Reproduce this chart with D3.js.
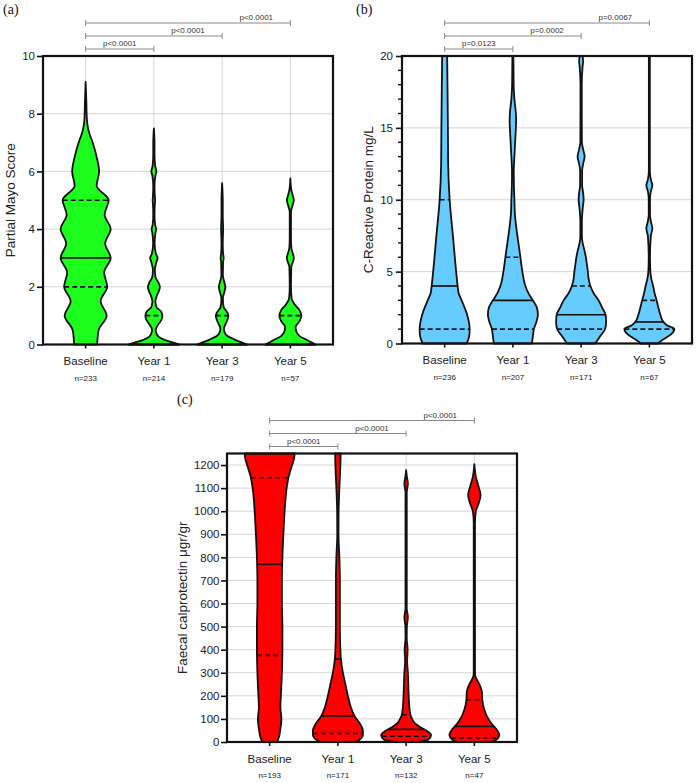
<!DOCTYPE html>
<html><head><meta charset="utf-8">
<script src="https://cdn.jsdelivr.net/npm/d3@7"></script>
<style>body{margin:0;background:#fff} svg{display:block}</style>
</head><body>
<script>
// ---------- DATA ----------
const categories = ["Baseline","Year 1","Year 3","Year 5"];

// (a) Partial Mayo Score
const mayoN = [233,214,179,57];
const mayoTicks = [0,2,4,6,8,10];
const mayoQuartiles = [[2,3,5],[0,0,1],[0,0,1],[0,0,1]]; // Q1, median, Q3
const mayoP = ["p<0.0001","p<0.0001","p<0.0001"];
// violin density profiles: [value, relative density]
const mayoDensity = [
  [[0,.46],[0.5,.52],[1,.84],[1.5,.6],[2,.86],[2.5,.74],[3,1],[3.5,.78],[4,1],[4.5,.76],[5,.92],[5.5,.44],[6,.54],[6.5,.44],[7,.28],[7.4,.12],[7.8,.05],[8.5,.025],[9.1,0]],
  [[0,1],[0.08,.72],[0.17,.4],[0.26,.2],[0.35,.12],[0.5,.07],[0.7,.18],[0.85,.3],[1,.34],[1.15,.28],[1.3,.1],[1.5,.06],[1.7,.12],[1.85,.2],[2,.24],[2.15,.18],[2.35,.06],[2.6,.04],[2.85,.1],[3,.15],[3.15,.08],[3.5,.03],[3.85,.06],[4,.09],[4.15,.05],[4.5,.025],[4.9,.04],[5,.05],[5.1,.04],[5.5,.025],[5.85,.06],[6,.1],[6.2,.05],[6.6,.025],[7,.025],[7.49,0]],
  [[0,1],[0.08,.75],[0.17,.5],[0.3,.2],[0.42,.1],[0.55,.07],[0.75,.16],[0.9,.23],[1,.25],[1.12,.2],[1.3,.06],[1.6,.03],[1.85,.1],[2,.13],[2.15,.09],[2.4,.03],[2.85,.04],[3,.06],[3.15,.04],[3.5,.025],[4,.04],[4.5,.025],[5,.025],[5.59,0]],
  [[0,1],[0.15,.68],[0.3,.36],[0.45,.24],[0.6,.21],[0.8,.36],[1,.44],[1.2,.36],[1.4,.16],[1.6,.05],[2,.025],[2.7,.04],[2.85,.1],[3,.14],[3.15,.1],[3.35,.04],[3.7,.025],[4.6,.025],[4.85,.1],[5,.14],[5.15,.1],[5.35,.04],[5.76,0]]
];

// (b) C-Reactive Protein
const crpN = [236,207,171,67];
const crpTicks = [0,5,10,15,20];
const crpMinorTicks = [1,2,3,4,6,7,8,9,11,12,13,14,16,17,18,19];
const crpQuartiles = [[1,4,10],[1,3,6],[1,2,4],[1,1.5,3]];
const crpP = ["p=0.0123","p=0.0002","p=0.0067"];
const crpDensity = [
  [[0,.88],[0.5,.98],[1,1],[2,.9],[3,.68],[3.5,.56],[4,.52],[5,.46],[7.5,.33],[10,.2],[12.5,.14],[15,.13],[20,.1]],
  [[0,.76],[0.5,.8],[1,.84],[1.5,.94],[2,1],[2.5,.96],[3,.8],[3.5,.62],[4,.5],[5,.38],[6,.3],[7,.22],[8,.14],[9,.08],[10,.06],[11,.04],[12,.035],[13,.06],[14,.09],[15,.12],[15.5,.13],[16,.12],[17,.06],[18,.03],[20,.02]],
  [[0,.56],[0.5,.76],[1,.96],[1.5,1],[2,.98],[2.5,.84],[3,.7],[3.5,.5],[4,.37],[4.5,.3],[5,.27],[5.5,.23],[6,.19],[6.5,.13],[7,.06],[7.5,.03],[8.5,.03],[9.5,.07],[10,.1],[10.5,.08],[11,.04],[12,.04],[12.5,.08],[13,.14],[13.5,.08],[14,.03],[18,.025],[19.3,.06],[19.6,.08],[20,.06]],
  [[0,.34],[0.25,.52],[0.5,.76],[1,1],[1.25,.72],[1.5,.56],[2,.44],[2.5,.36],[3,.29],[3.5,.21],[4,.15],[4.5,.08],[5,.04],[6,.025],[7.5,.06],[8,.12],[8.5,.06],[9,.025],[10,.025],[10.6,.06],[11,.12],[11.4,.06],[12,.02],[20,.02]]
];

// (c) Faecal calprotectin
const calN = [193,171,132,47];
const calTicks = [0,100,200,300,400,500,600,700,800,900,1000,1100,1200];
const calQuartiles = [[375,770,1145],[37,113,360],[25,55,118],[18,68,183]];
const calP = ["p<0.0001","p<0.0001","p<0.0001"];
const calDensity = [
  [[0,.3],[25,.38],[50,.42],[100,.47],[150,.43],[200,.45],[300,.49],[400,.51],[500,.51],[600,.49],[700,.49],[800,.51],[900,.55],[1000,.6],[1100,.68],[1150,.76],[1200,.9],[1230,.98],[1250,1]],
  [[0,.72],[15,.92],[30,1],[50,1],[80,.88],[110,.68],[150,.52],[200,.4],[250,.3],[300,.2],[360,.12],[400,.1],[500,.08],[600,.08],[700,.08],[800,.06],[900,.025],[1000,.03],[1100,.06],[1200,.1],[1250,.11]],
  [[0,.48],[10,.88],[30,1],[50,.8],[65,.56],[80,.36],[100,.24],[115,.18],[150,.13],[210,.1],[300,.07],[350,.04],[400,.06],[450,.025],[500,.03],[540,.07],[580,.025],[1080,.025],[1120,.07],[1150,.03],[1178,0]],
  [[0,.68],[10,.88],[30,1],[50,.92],[70,.76],[100,.56],[140,.4],[180,.32],[220,.3],[250,.2],[270,.1],[290,.03],[320,.025],[950,.025],[1000,.06],[1030,.16],[1070,.25],[1110,.16],[1150,.06],[1204,0]]
];

// ---------- DRAW ----------
const svg = d3.select("body").append("svg").attr("width",698).attr("height",783)
  .style("font-family","'Liberation Sans', Arial, Helvetica, sans-serif");

function panel(o){
  const g = svg.append("g");
  const x = d3.scalePoint().domain(categories).range([o.left,o.right]).padding(0.625);
  const y = d3.scaleLinear().domain(o.domain).range([o.bottom,o.top]);
  const w = d3.scaleLinear().domain([0,1]).range([0,25]);
  const grid = "#d6d6d6";
  g.append("g").selectAll("line").data(o.ticks.filter(t=>t>o.domain[0])).join("line")
    .attr("x1",o.left).attr("x2",o.right).attr("y1",d=>y(d)).attr("y2",d=>y(d))
    .attr("stroke",grid).attr("stroke-width",1);
  g.append("g").selectAll("line").data(categories).join("line")
    .attr("x1",d=>x(d)).attr("x2",d=>x(d)).attr("y1",o.top).attr("y2",o.bottom)
    .attr("stroke",grid).attr("stroke-width",1);
  const area = d3.area().y(d=>y(d[0])).x0(d=>-w(d[1])).x1(d=>w(d[1])).curve(d3.curveMonotoneY);
  categories.forEach((c,i)=>{
    const vg = g.append("g").attr("transform",`translate(${x(c)},0)`);
    vg.append("path").datum(o.density[i]).attr("d",area)
      .attr("fill",o.color).attr("stroke","#111").attr("stroke-width",1.8).attr("stroke-linejoin","round");
    const interp = d3.scaleLinear().domain(o.density[i].map(d=>d[0])).range(o.density[i].map(d=>d[1]));
    o.quart[i].forEach((q,k)=>{
      const hw = w(interp(q));
      vg.append("line").attr("x1",-hw).attr("x2",hw).attr("y1",y(q)).attr("y2",y(q))
        .attr("stroke","#111").attr("stroke-width",1.7)
        .attr("stroke-dasharray",k===1?null:"5,3");
    });
  });
  const ax = g.append("g").attr("transform",`translate(${o.left},0)`)
    .call(d3.axisLeft(y).tickValues(o.ticks).tickFormat(d3.format("d")).tickSize(6).tickPadding(o.pad).tickSizeOuter(0));
  ax.select(".domain").remove();
  ax.selectAll(".tick line").attr("stroke","#111").attr("stroke-width",1.6);
  ax.selectAll(".tick text").attr("font-size",11.5).attr("fill","#222")
    .style("font-family","'Liberation Sans', Arial, sans-serif");
  if(o.minor){
    g.append("g").selectAll("line").data(o.minor).join("line")
      .attr("x1",o.left-4).attr("x2",o.left).attr("y1",d=>y(d)).attr("y2",d=>y(d))
      .attr("stroke","#111").attr("stroke-width",1.4);
  }
  g.append("g").selectAll("line").data(categories).join("line")
    .attr("x1",d=>x(d)).attr("x2",d=>x(d)).attr("y1",o.bottom).attr("y2",o.bottom+4)
    .attr("stroke","#111").attr("stroke-width",1.6);
  g.append("rect").attr("x",o.left).attr("y",o.top).attr("width",o.right-o.left).attr("height",o.bottom-o.top)
    .attr("fill","none").attr("stroke","#111").attr("stroke-width",2.2);
  g.append("g").selectAll("text").data(categories).join("text")
    .attr("x",d=>x(d)).attr("y",o.bottom+20.5).attr("text-anchor","middle")
    .attr("font-size",11.5).attr("fill","#222").text(d=>d);
  g.append("g").selectAll("text").data(o.n).join("text")
    .attr("x",(d,i)=>x(categories[i])).attr("y",o.bottom+36).attr("text-anchor","middle")
    .attr("font-size",8).attr("fill","#222").text(d=>"n="+d);
  const offs = [7,20,33];
  o.p.forEach((p,k)=>{
    const yy = o.top - offs[k];
    const x0 = x(categories[0]), x1 = x(categories[k+1]);
    const bg = g.append("g").attr("stroke","#8a8a8a").attr("stroke-width",1);
    bg.append("line").attr("x1",x0).attr("x2",x1).attr("y1",yy).attr("y2",yy);
    bg.append("line").attr("x1",x0).attr("x2",x0).attr("y1",yy-3).attr("y2",yy+3);
    bg.append("line").attr("x1",x1).attr("x2",x1).attr("y1",yy-3).attr("y2",yy+3);
    g.append("text").attr("x",(x(categories[k])+x1)/2).attr("y",yy-3)
      .attr("text-anchor","middle").attr("font-size",8).attr("fill","#333").text(p);
  });
  g.append("text").attr("transform",`translate(${o.titleX},${(o.top+o.bottom)/2}) rotate(-90)`)
    .attr("text-anchor","middle").attr("font-size",13.5).attr("fill","#222").text(o.title);
  svg.append("text").attr("x",o.letterX).attr("y",o.letterY)
    .style("font-family","'Liberation Serif', 'Times New Roman', serif")
    .attr("font-size",14).attr("fill","#111").text(o.letter);
}

panel({left:43,right:333,top:56,bottom:344.5,domain:[0,10],ticks:mayoTicks,pad:2,
  density:mayoDensity,quart:mayoQuartiles,n:mayoN,p:mayoP,color:"#1cff1c",
  title:"Partial Mayo Score",titleX:15,letter:"(a)",letterX:3,letterY:14});
panel({left:402,right:692,top:56,bottom:343.5,domain:[0,20],ticks:crpTicks,minor:crpMinorTicks,pad:3,
  density:crpDensity,quart:crpQuartiles,n:crpN,p:crpP,color:"#66ccff",
  title:"C-Reactive Protein mg/L",titleX:373,letter:"(b)",letterX:356,letterY:14});
panel({left:227,right:517,top:453.5,bottom:742,domain:[0,1250],ticks:calTicks,pad:1.5,
  density:calDensity,quart:calQuartiles,n:calN,p:calP,color:"#ff0000",
  title:"Faecal calprotectin μgr/gr",titleX:187,letter:"(c)",letterX:177,letterY:404});
</script>
</body></html>
